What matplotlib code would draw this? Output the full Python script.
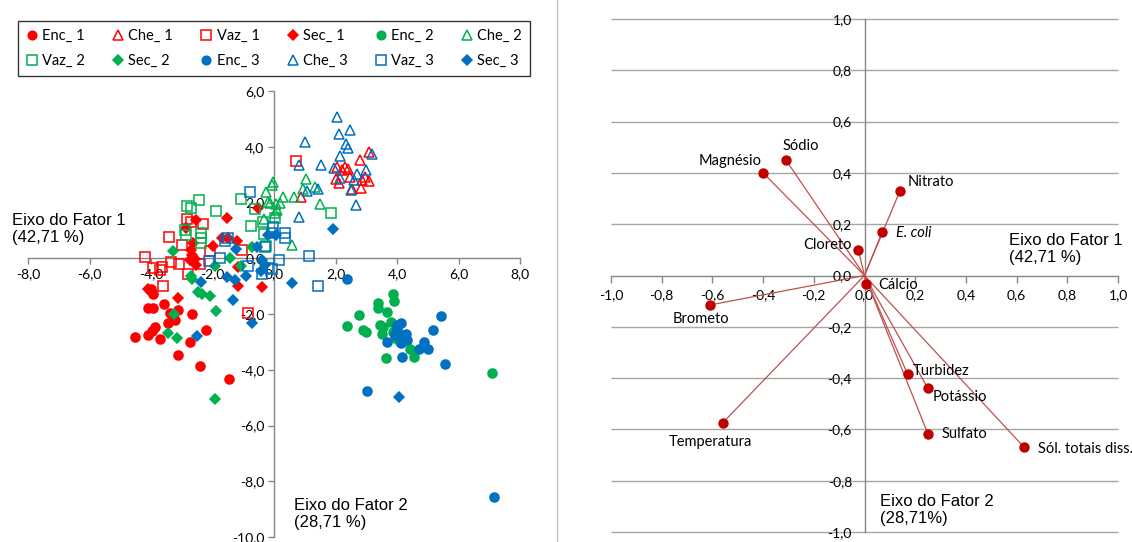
import numpy as np
import matplotlib
matplotlib.use("Agg")
import matplotlib.pyplot as plt
from matplotlib.lines import Line2D
from matplotlib.ticker import MultipleLocator, FuncFormatter

# ---- scores (Fator 1, Fator 2) ----
enc_1 = [(-4.00, -1.12), (-3.93, -1.27), (-4.09, -1.80), (-3.95, -1.77), (-3.57, -1.63),
         (-3.11, -1.84), (-3.38, -1.95), (-2.68, -2.01), (-3.22, -2.22), (-3.46, -2.32),
         (-3.87, -2.48), (-3.98, -2.60), (-4.09, -2.76), (-4.52, -2.82), (-3.71, -2.88),
         (-2.22, -2.58), (-2.73, -3.00), (-3.13, -3.48), (-2.41, -3.87), (-1.46, -4.34)]
che_1 = [(3.08, 3.80), (2.80, 3.54), (2.05, 3.28), (2.30, 3.27), (2.40, 3.20),
         (2.20, 3.15), (2.02, 2.86), (2.10, 2.70), (2.47, 2.90), (2.85, 2.82),
         (3.10, 2.76), (2.95, 2.90), (2.83, 2.52), (2.55, 2.50), (0.87, 2.20)]
vaz_1 = [(0.71, 3.50), (-2.83, 1.40), (-2.30, 1.22), (-2.70, 1.30), (-3.42, 0.75),
         (-2.98, 0.47), (-4.20, 0.06), (-3.95, -0.35), (-3.65, -0.30), (-3.35, -0.15),
         (-3.08, -0.19), (-2.40, -0.22), (-2.80, -0.58), (-3.62, -1.00), (-2.08, 0.26),
         (-1.05, 0.28), (-0.85, -1.95), (-3.70, -0.43)]
sec_1 = [(-2.54, 1.36), (-1.52, 1.46), (-2.86, 1.09), (-0.53, 1.80), (-2.62, 0.56),
         (-2.71, 0.29), (-2.68, 0.11), (-2.57, -0.04), (-1.97, 0.43), (-1.70, 0.73),
         (-1.50, 0.72), (-1.20, 0.62), (-2.54, -0.25), (-1.16, -0.30), (-2.72, -0.08),
         (-1.18, -0.98), (-0.40, -1.03), (-4.09, -1.09), (-3.99, -1.22), (-3.11, -1.44)]
enc_2 = [(3.88, -1.29), (3.91, -1.53), (3.37, -1.60), (3.39, -1.77), (3.69, -1.92),
         (2.77, -2.02), (2.36, -2.44), (2.91, -2.56), (2.99, -2.64), (3.45, -2.38),
         (3.55, -2.46), (3.82, -2.28), (3.50, -2.73), (3.88, -2.64), (4.10, -3.00),
         (4.42, -3.27), (4.56, -3.54), (3.64, -3.57), (7.10, -4.13), (3.95, -2.85)]
che_2 = [(-0.02, 2.75), (-0.05, 2.62), (-0.27, 2.36), (1.05, 2.86), (0.93, 2.50),
         (1.33, 2.56), (0.65, 2.21), (0.30, 2.20), (0.18, 1.98), (-0.13, 2.00),
         (0.05, 1.95), (0.04, 1.62), (1.50, 1.96), (-0.33, 1.40), (0.60, 0.46),
         (-0.20, 2.02), (0.10, 1.72)]
vaz_2 = [(-2.44, 2.08), (-2.84, 1.88), (-2.71, 1.82), (-1.90, 1.68), (-1.08, 2.11),
         (-0.61, 1.77), (-0.76, 1.16), (0.02, 1.45), (-2.90, 1.00), (-2.86, 0.85),
         (-2.37, 0.91), (-2.37, 0.73), (-2.37, 0.56), (-0.33, 0.87), (-0.27, 0.43),
         (1.86, 1.61), (-0.35, 1.29)]
sec_2 = [(-3.30, 0.25), (-2.70, -0.62), (-2.68, -0.75), (-1.92, -0.28), (-1.44, 0.02),
         (-1.08, -0.27), (-0.72, 0.39), (-2.46, -1.21), (-2.35, -1.27), (-2.07, -1.35),
         (-1.90, -1.89), (-3.25, -1.99), (-3.45, -2.68), (-3.15, -2.85), (-1.92, -5.06)]
enc_3 = [(2.37, -0.75), (3.99, -2.40), (4.13, -2.34), (3.93, -2.76), (4.10, -2.70),
         (4.29, -2.73), (4.34, -2.94), (4.12, -3.03), (3.66, -3.02), (4.89, -3.02),
         (5.00, -3.24), (4.73, -3.24), (4.15, -3.56), (5.18, -2.58), (5.43, -2.07),
         (5.56, -3.80), (3.01, -4.77), (7.15, -8.57), (4.00, -2.50), (4.20, -2.85)]
che_3 = [(2.04, 5.07), (2.12, 4.47), (2.47, 4.59), (1.01, 4.17), (2.33, 4.11),
         (2.42, 3.95), (3.20, 3.75), (2.15, 3.66), (1.53, 3.36), (0.80, 3.36),
         (1.95, 3.24), (2.99, 3.15), (2.71, 3.01), (2.15, 2.89), (2.61, 2.80),
         (2.51, 2.44), (1.44, 2.50), (1.06, 2.40), (2.66, 1.92), (0.82, 1.47)]
vaz_3 = [(-0.77, 2.38), (-0.03, 1.12), (-0.05, 0.90), (0.35, 0.92), (0.35, 0.72),
         (-0.30, 0.40), (-1.50, 0.74), (-1.60, 0.62), (-2.10, -0.10), (-1.75, 0.00),
         (-0.86, -0.28), (-0.08, -0.38), (0.15, -0.08), (1.15, 0.08), (1.42, -1.00),
         (-0.40, -0.55), (-0.20, -0.35)]
sec_3 = [(1.92, 1.05), (-0.18, 0.84), (0.07, 0.82), (-0.55, 0.42), (-1.25, 0.33),
         (-1.54, -0.68), (-1.26, -0.78), (-0.90, -0.64), (-0.41, -0.45), (-0.39, -0.08),
         (-2.36, -0.86), (0.60, -0.90), (-1.34, -1.48), (-2.49, -2.80), (-0.73, -2.33),
         (4.06, -4.99), (-0.30, -0.25)]

# ---- loadings ----
variaveis = ['Magnésio', 'Sódio', 'Nitrato', 'E. coli', 'Cloreto', 'Cálcio', 'Brometo',
             'Turbidez', 'Potássio', 'Temperatura', 'Sulfato', 'Sól. totais diss.']
carga_f1 = [-0.40, -0.31, 0.14, 0.07, -0.025, 0.005, -0.61, 0.17, 0.25, -0.56, 0.25, 0.63]
carga_f2 = [0.40, 0.45, 0.33, 0.17, 0.10, -0.035, -0.115, -0.385, -0.44, -0.575, -0.617, -0.67]

W, H = 1132, 542
plt.rcParams['font.family'] = ['Lato', 'DejaVu Sans']
fig = plt.figure(figsize=(W / 100, H / 100), dpi=100)


def fx(px):
    return px / W


def fy(py):
    return 1 - py / H


def virgula(v, pos):
    v = round(v, 1) + 0.0
    return f"{v:.1f}".replace('.', ',')


RED, GREEN, BLUE = '#FF0000', '#00B050', '#0070C0'
AXC = '#868686'

# ================= left: scores =================
ax = fig.add_axes([fx(28), fy(537), fx(520) - fx(28), fy(91) - fy(537)])
ax.set_xlim(-8, 8)
ax.set_ylim(-10, 6)
ax.set_facecolor('none')
for s in ['top', 'right']:
    ax.spines[s].set_visible(False)
ax.spines['left'].set_position(('data', 0))
ax.spines['bottom'].set_position(('data', 0))
for s in ['left', 'bottom']:
    ax.spines[s].set_color(AXC)
    ax.spines[s].set_linewidth(1)
    ax.spines[s].set_zorder(0)
ax.xaxis.set_major_locator(MultipleLocator(2))
ax.yaxis.set_major_locator(MultipleLocator(2))
ax.xaxis.set_major_formatter(FuncFormatter(virgula))
ax.yaxis.set_major_formatter(FuncFormatter(virgula))
ax.tick_params(axis='both', direction='out', length=4, width=1, color=AXC,
               labelsize=10, pad=3)

series = [
    ('Enc_ 1', enc_1, 'o', RED, True), ('Che_ 1', che_1, '^', RED, False),
    ('Vaz_ 1', vaz_1, 's', RED, False), ('Sec_ 1', sec_1, 'D', RED, True),
    ('Enc_ 2', enc_2, 'o', GREEN, True), ('Che_ 2', che_2, '^', GREEN, False),
    ('Vaz_ 2', vaz_2, 's', GREEN, False), ('Sec_ 2', sec_2, 'D', GREEN, True),
    ('Enc_ 3', enc_3, 'o', BLUE, True), ('Che_ 3', che_3, '^', BLUE, False),
    ('Vaz_ 3', vaz_3, 's', BLUE, False), ('Sec_ 3', sec_3, 'D', BLUE, True),
]
sizes = {'o': 6.5, '^': 7, 's': 7, 'D': 5.5}
handles = []
for nome, pts, mk, cor, cheio in series:
    arr = np.array(pts)
    h, = ax.plot(arr[:, 0], arr[:, 1], linestyle='none', marker=mk, markersize=sizes[mk],
                 markerfacecolor=cor if cheio else 'none', markeredgecolor=cor,
                 markeredgewidth=1.1, label=nome, clip_on=False, zorder=3)
    handles.append(h)

# legend: two rows of six (matplotlib fills column-wise)
ordem = [0, 6, 1, 7, 2, 8, 3, 9, 4, 10, 5, 11]
leg = fig.legend([handles[i] for i in ordem], [handles[i].get_label() for i in ordem],
                 ncol=6, loc='lower left', mode='expand',
                 bbox_to_anchor=(fx(18), fy(76), fx(530) - fx(18), fy(14) - fy(76)),
                 frameon=True, fancybox=False, edgecolor='black', fontsize=10.5,
                 handlelength=0.8, handletextpad=0.3, columnspacing=0.8,
                 borderaxespad=0, borderpad=0.55, labelspacing=0.75, markerscale=0.95)
leg.get_frame().set_linewidth(1)

fig.text(fx(12), fy(229), 'Eixo do Fator 1\n(42,71 %)', family='Liberation Sans',
         fontsize=12, ha='left', va='center', linespacing=1.1)
fig.text(fx(294), fy(514), 'Eixo do Fator 2\n(28,71 %)', family='Liberation Sans',
         fontsize=12, ha='left', va='center', linespacing=1.1)

# separator
fig.add_artist(Line2D([fx(557), fx(557)], [0, 1], color='#BFBFBF', linewidth=1))

# ================= right: loadings =================
ax2 = fig.add_axes([fx(611), fy(532), fx(1118) - fx(611), fy(19) - fy(532)])
ax2.set_xlim(-1, 1)
ax2.set_ylim(-1, 1)
ax2.set_facecolor('none')
for s in ['top', 'right']:
    ax2.spines[s].set_visible(False)
ax2.spines['left'].set_position(('data', 0))
ax2.spines['bottom'].set_position(('data', 0))
for s in ['left', 'bottom']:
    ax2.spines[s].set_color(AXC)
    ax2.spines[s].set_linewidth(1)
    ax2.spines[s].set_zorder(1)
ax2.xaxis.set_major_locator(MultipleLocator(0.2))
ax2.yaxis.set_major_locator(MultipleLocator(0.2))
ax2.xaxis.set_major_formatter(FuncFormatter(virgula))
ax2.yaxis.set_major_formatter(FuncFormatter(virgula))
ax2.tick_params(axis='x', direction='out', length=5, width=1, color=AXC,
                labelsize=10, pad=5)
ax2.tick_params(axis='y', direction='out', length=0, labelsize=10, pad=9)

# horizontal gridlines, including the ones at the limits
grade_y = [-1.0, -0.8, -0.6, -0.4, -0.2, 0.2, 0.4, 0.6, 0.8, 1.0]
ax2.hlines(grade_y, -1, 1, colors='#A6A6A6', linewidth=1, zorder=0, clip_on=False)

for nome, x, y in zip(variaveis, carga_f1, carga_f2):
    ax2.plot([0, x], [0, y], color='#C0504D', linewidth=0.9, zorder=3)
ax2.plot(carga_f1, carga_f2, linestyle='none', marker='o', markersize=6.5,
         color='#C00000', zorder=4)

# label positions (text anchor) for each variable
rot_x = [-0.53, -0.25, 0.262, 0.125, -0.147, 0.132, -0.646, 0.302, 0.377, -0.607, 0.394, 0.683]
rot_y = [0.446, 0.503, 0.366, 0.167, 0.118, -0.037, -0.170, -0.372, -0.474, -0.651, -0.619, -0.675]
rot_ha = ['center', 'center', 'center', 'left', 'center', 'center', 'center',
          'center', 'center', 'center', 'center', 'left']
for nome, x, y, ha in zip(variaveis, rot_x, rot_y, rot_ha):
    ax2.text(x, y, nome, fontsize=10.5, ha=ha, va='center', clip_on=False,
             style='italic' if nome == 'E. coli' else 'normal', zorder=5)

fig.text(fx(1009), fy(249), 'Eixo do Fator 1\n(42,71 %)', family='Liberation Sans',
         fontsize=12, ha='left', va='center', linespacing=1.1)
fig.text(fx(880), fy(510), 'Eixo do Fator 2\n(28,71%)', family='Liberation Sans',
         fontsize=12, ha='left', va='center', linespacing=1.1)

fig.savefig('out.png', dpi=100)
